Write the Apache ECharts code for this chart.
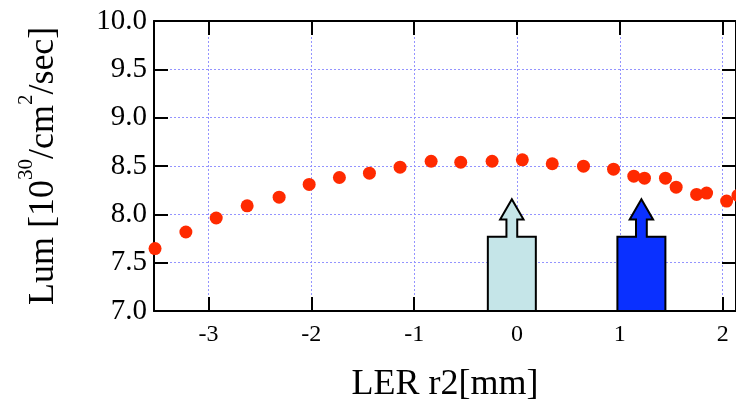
<!DOCTYPE html>
<html><head><meta charset="utf-8">
<script src="https://cdn.jsdelivr.net/npm/echarts@6/dist/echarts.min.js"></script>
<style>html,body{margin:0;padding:0;background:#fff}#c{width:736px;height:409px}</style>
</head><body><div id="c"></div>
<script>
const lerR2 = [-3.52, -3.22, -2.925, -2.624, -2.313, -2.021, -1.727, -1.435, -1.137, -0.835, -0.547, -0.242, 0.052, 0.343, 0.647, 0.939, 1.136, 1.240, 1.444, 1.548, 1.747, 1.844, 2.039, 2.149];
const lum   = [7.646, 7.817, 7.962, 8.088, 8.178, 8.309, 8.381, 8.426, 8.488, 8.549, 8.539, 8.549, 8.564, 8.523, 8.498, 8.467, 8.395, 8.374, 8.374, 8.281, 8.206, 8.220, 8.137, 8.196];
const xTickLabels = [-3, -2, -1, 0, 1, 2];
const arrowX = [-0.05, 1.21];
const arrowColors = ['#c5e5e8', '#0a30ff'];

const FONT = '"Liberation Serif", "Times New Roman", serif';
const chart = echarts.init(document.getElementById('c'), null, {renderer: 'canvas'});

const gridLine = {show: true, lineStyle: {color: '#9494ff', type: [2, 2], width: 1}};
const axisLine = {show: true, onZero: false, lineStyle: {color: '#000', width: 2}};
const tick = {show: true, inside: true, length: 14, lineStyle: {color: '#000', width: 2}};

chart.setOption({
  animation: false,
  backgroundColor: '#fff',
  grid: {left: 154, right: 0, top: 21, bottom: 98, containLabel: false},
  xAxis: [{
    type: 'value', min: -3.53, max: 2.13, position: 'bottom',
    axisLine: axisLine,
    axisTick: Object.assign({}, tick, {customValues: xTickLabels}),
    axisLabel: {customValues: xTickLabels, fontFamily: FONT, fontSize: 24, color: '#000', margin: 12},
    splitLine: gridLine,
    name: 'LER r2[mm]', nameLocation: 'middle', nameGap: 56,
    nameTextStyle: {fontFamily: FONT, fontSize: 36, color: '#000'}
  }, {
    type: 'value', min: -3.53, max: 2.13, position: 'top',
    axisLine: axisLine,
    axisTick: Object.assign({}, tick, {customValues: xTickLabels}),
    axisLabel: {show: false},
    splitLine: {show: false}
  }],
  yAxis: [{
    type: 'value', min: 7, max: 10, interval: 0.5, position: 'left',
    axisLine: axisLine, axisTick: tick,
    axisLabel: {fontFamily: FONT, fontSize: 29, color: '#000', margin: 7,
      formatter: v => v.toFixed(1)},
    splitLine: gridLine,
    name: '{sp| }{m|Lum [10}{s|30}{m|/cm}{s|2}{m|/sec]}',
    nameLocation: 'middle', nameRotate: 90, nameGap: 92,
    nameTextStyle: {fontFamily: FONT, fontSize: 36, color: '#000',
      rich: {
        sp: {fontSize: 1, lineHeight: 46, verticalAlign: 'bottom'},
        m: {fontFamily: FONT, fontSize: 36, lineHeight: 36, verticalAlign: 'bottom', color: '#000'},
        s: {fontFamily: FONT, fontSize: 21, lineHeight: 21, verticalAlign: 'top', color: '#000'}
      }}
  }, {
    type: 'value', min: 7, max: 10, interval: 0.5, position: 'right',
    axisLine: axisLine, axisTick: tick,
    axisLabel: {show: false}, splitLine: {show: false}
  }],
  series: [{
    type: 'custom',
    xAxisIndex: 0, yAxisIndex: 0,
    clip: false,
    data: arrowX.map(x => [x, 7]),
    renderItem: function (params, api) {
      const x = api.value(0);
      const base = api.coord([x, 7]);
      const cx = base[0], by = base[1];
      const bodyTop = api.coord([x, 7.768])[1];
      const headBase = api.coord([x, 7.947])[1];
      const tip = api.coord([x, 8.157])[1];
      const bw = 24, sw = 5.4, hw = 11.7;
      const pts = [[cx - bw, by], [cx - bw, bodyTop], [cx - sw, bodyTop], [cx - sw, headBase],
        [cx - hw, headBase], [cx, tip], [cx + hw, headBase], [cx + sw, headBase],
        [cx + sw, bodyTop], [cx + bw, bodyTop], [cx + bw, by]];
      return {type: 'polygon', shape: {points: pts},
        style: {fill: arrowColors[params.dataIndex], stroke: '#000', lineWidth: 2, lineJoin: 'miter'}};
    },
    z: 3
  }, {
    type: 'scatter',
    xAxisIndex: 0, yAxisIndex: 0,
    clip: false,
    symbol: 'circle', symbolSize: 13,
    itemStyle: {color: '#ff2a00', opacity: 1},
    data: lerR2.map((x, i) => [x, lum[i]]),
    z: 4
  }]
});
</script>
</body></html>
